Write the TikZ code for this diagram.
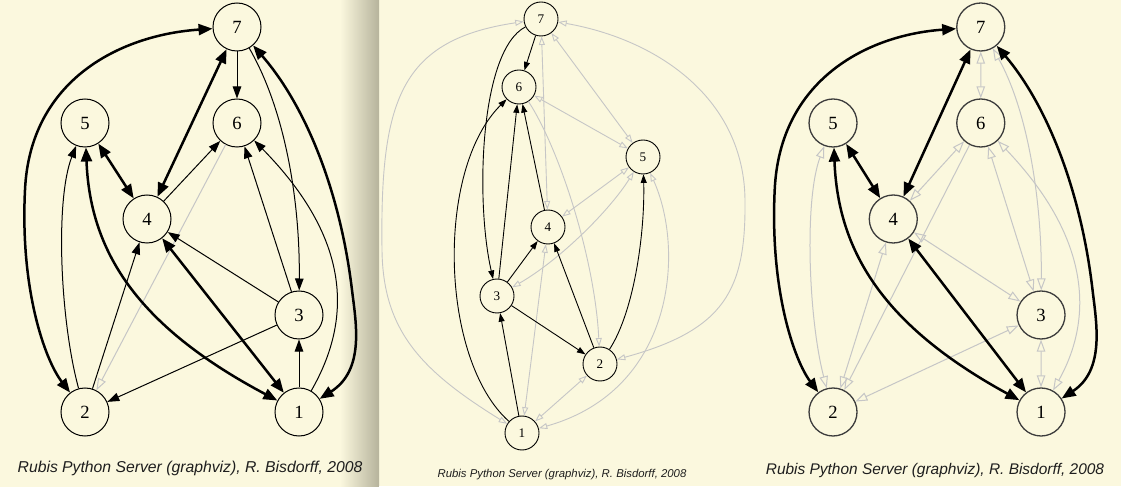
\documentclass[tikz,border=0pt]{standalone}
\usepackage{fontspec}
\setmainfont{Liberation Serif}
\newfontfamily\capfont{Liberation Sans}
\usetikzlibrary{arrows.meta}
\definecolor{bg}{RGB}{251,248,222}
\definecolor{shadecol}{RGB}{182,179,156}
\definecolor{edgegray}{RGB}{198,198,198}
\definecolor{nodegray}{RGB}{60,60,60}
\definecolor{captext}{RGB}{30,30,30}
\begin{document}
\begin{tikzpicture}[x=1bp,y=-1bp,
  bignode/.style={circle, draw=black, line width=1bp, minimum size=48bp, inner sep=0pt, font=\fontsize{18.7}{20}\selectfont},
  darknode/.style={bignode, draw=nodegray, line width=1.3bp},
  smallnode/.style={circle, draw=black, line width=0.9bp, minimum size=34bp, inner sep=0pt, font=\fontsize{13.2}{14}\selectfont},
  blk/.style={draw=black, line width=1bp, -{Triangle[length=12bp,width=8.5bp]}},
  thk/.style={draw=black, line width=2.5bp, {Triangle[length=14bp,width=11bp]}-{Triangle[length=14bp,width=11bp]}},
  gry/.style={draw=edgegray, line width=1bp, -{Triangle[open,length=12bp,width=8.5bp]}},
  gryboth/.style={draw=edgegray, line width=1bp, {Triangle[open,length=12bp,width=8.5bp]}-{Triangle[open,length=12bp,width=8.5bp]}},
  sblk/.style={draw=black, line width=0.9bp, -{Triangle[length=8.5bp,width=6bp]}},
  sgry/.style={draw=edgegray, line width=0.9bp, -{Triangle[open,length=8.5bp,width=6bp]}},
  sgryboth/.style={draw=edgegray, line width=0.9bp, {Triangle[open,length=8.5bp,width=6bp]}-{Triangle[open,length=8.5bp,width=6bp]}},
  caption/.style={anchor=base, text=captext, inner sep=0pt}
]
\useasboundingbox (0,0) rectangle (1127,487);
% backgrounds
\fill[bg] (0,0) rectangle (1127,487);
\shade[left color=bg, right color=shadecol] (340,0) rectangle (379,487);
\fill[white] (1121,0) rectangle (1127,487);
\fill[white] (379,485.5) rectangle (1127,487);

% ---------------- Panel 1 ----------------
\node[bignode] (a7) at (237,27) {7};
\node[bignode] (a5) at (85,123) {5};
\node[bignode] (a6) at (237,123) {6};
\node[bignode] (a4) at (147,219) {4};
\node[bignode] (a3) at (299,315) {3};
\node[bignode] (a2) at (85,412) {2};
\node[bignode] (a1) at (299,412) {1};

\draw[gry] (a6) -- (a2);
\draw[blk] (a7) -- (a6);
\draw[blk] (a7) .. controls (285,110) and (300,200) .. (a3);
\draw[blk] (a2) .. controls (60,320) and (55,200) .. (a5);
\draw[blk] (a2) -- (a4);
\draw[blk] (a4) -- (a6);
\draw[blk] (a3) -- (a4);
\draw[blk] (a3) -- (a6);
\draw[blk] (a1) .. controls (352,320) and (352,240) .. (a6);
\draw[blk] (a3) -- (a2);
\draw[blk] (a1) -- (a3);

\draw[thk] (a7) .. controls (120,35) and (30,80) .. (25,190) .. controls (20,290) and (45,360) .. (a2);
\draw[thk] (a7) .. controls (305,105) and (340,190) .. (352,290) .. controls (356,323) and (365,370) .. (a1);
\draw[thk] (a7) -- (a4);
\draw[thk] (a5) -- (a4);
\draw[thk] (a5) .. controls (90,250) and (135,325) .. (a1);
\draw[thk] (a4) -- (a1);

\node[caption, font=\capfont\itshape\fontsize{15.8}{18}\selectfont] (capa) at (190,472) {Rubis Python Server (graphviz), R. Bisdorff, 2008};

% ---------------- Panel 2 ----------------
\node[smallnode] (b7) at (541,19) {7};
\node[smallnode] (b6) at (519,87) {6};
\node[smallnode] (b5) at (643,157) {5};
\node[smallnode] (b4) at (548,227) {4};
\node[smallnode] (b3) at (497,296) {3};
\node[smallnode] (b2) at (600,364) {2};
\node[smallnode] (b1) at (522,433) {1};

\draw[sgryboth] (b1) .. controls (420,370) and (383,330) .. (382,250) .. controls (380,100) and (400,40) .. (b7);
\draw[sgryboth] (b7) .. controls (660,40) and (744,100) .. (745,200) .. controls (746,290) and (725,330) .. (b2);
\draw[sgryboth] (b4) -- (b7);
\draw[sgryboth] (b7) -- (b5);
\draw[sgryboth] (b6) -- (b5);
\draw[sgry] (b6) .. controls (560,150) and (595,260) .. (b2);
\draw[sgryboth] (b5) -- (b4);
\draw[sgryboth] (b5) .. controls (610,210) and (560,260) .. (b3);
\draw[sgryboth] (b4) -- (b1);
\draw[sgryboth] (b2) -- (b1);
\draw[sgryboth] (b5) .. controls (685,250) and (675,390) .. (b1);

\draw[sblk] (b7) -- (b6);
\draw[sblk] (b7) .. controls (480,50) and (475,200) .. (b3);
\draw[sblk] (b1) .. controls (440,360) and (435,170) .. (b6);
\draw[sblk] (b3) -- (b6);
\draw[sblk] (b4) -- (b6);
\draw[sblk] (b3) -- (b4);
\draw[sblk] (b3) -- (b2);
\draw[sblk] (b1) -- (b3);
\draw[sblk] (b2) -- (b4);
\draw[sblk] (b2) .. controls (635,310) and (645,230) .. (b5);

\node[caption, font=\capfont\itshape\fontsize{11.4}{13}\selectfont] (capb) at (562,477) {Rubis Python Server (graphviz), R. Bisdorff, 2008};

% ---------------- Panel 3 ----------------
\begin{scope}[shift={(750.4,0)}, xscale=0.972]
\node[darknode] (c7) at (237,27) {7};
\node[darknode] (c5) at (85,123) {5};
\node[darknode] (c6) at (237,123) {6};
\node[darknode] (c4) at (147,219) {4};
\node[darknode] (c3) at (299,315) {3};
\node[darknode] (c2) at (85,412) {2};
\node[darknode] (c1) at (299,412) {1};

\draw[gryboth] (c7) -- (c6);
\draw[gryboth] (c7) .. controls (285,110) and (300,200) .. (c3);
\draw[gryboth] (c2) .. controls (60,320) and (55,200) .. (c5);
\draw[gryboth] (c2) -- (c4);
\draw[gryboth] (c4) -- (c6);
\draw[gryboth] (c3) -- (c4);
\draw[gryboth] (c3) -- (c6);
\draw[gryboth] (c1) .. controls (352,320) and (352,240) .. (c6);
\draw[gryboth] (c3) -- (c2);
\draw[gryboth] (c1) -- (c3);
\draw[gry] (c6) -- (c2);

\draw[thk] (c7) .. controls (120,35) and (30,80) .. (25,190) .. controls (20,290) and (45,360) .. (c2);
\draw[thk] (c7) .. controls (305,105) and (340,190) .. (352,290) .. controls (356,323) and (365,370) .. (c1);
\draw[thk] (c7) -- (c4);
\draw[thk] (c5) -- (c4);
\draw[thk] (c5) .. controls (90,250) and (135,325) .. (c1);
\draw[thk] (c4) -- (c1);
\end{scope}

\node[caption, font=\capfont\itshape\fontsize{15.5}{18}\selectfont] (capc) at (935,474) {Rubis Python Server (graphviz), R. Bisdorff, 2008};
\end{tikzpicture}
\end{document}
